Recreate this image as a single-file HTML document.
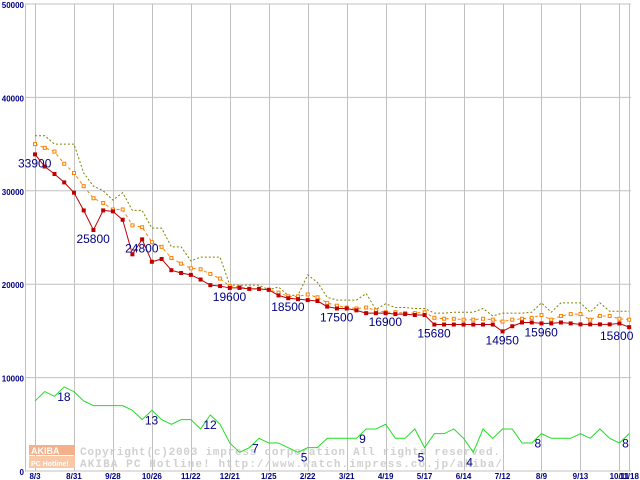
<!DOCTYPE html>
<html><head><meta charset="utf-8"><style>
html,body{margin:0;padding:0;background:#fff;}
svg{display:block;font-family:"Liberation Sans",sans-serif;}
</style></head><body>
<svg id="chart" width="640" height="480" viewBox="0 0 640 480" xmlns="http://www.w3.org/2000/svg">
<g id="grid"></g>
<g id="axes"></g>
<g id="watermark">
<rect x="29" y="445" width="46" height="10" fill="#f4b08a"/>
<rect x="29" y="456" width="46" height="12" fill="#f8c8a8"/>
<text x="31" y="454" font-size="9" font-weight="bold" fill="#fff">AKIBA</text>
<text x="31" y="466" font-size="7" font-weight="bold" fill="#fff">PC Hotline!</text>
<text x="80" y="455" font-family="Liberation Mono,monospace" font-size="11" font-weight="bold" textLength="420" lengthAdjust="spacing" fill="#d0d0d0">Copyright(c)2003 impress corporation All rights reserved.</text>
<text x="80" y="467" font-family="Liberation Mono,monospace" font-size="11" font-weight="bold" textLength="422" lengthAdjust="spacing" fill="#d0d0d0">AKIBA PC Hotline!  http://www.watch.impress.co.jp/akiba/</text>
</g>
<g id="series"></g>
<g id="labels"></g>
</svg>
<script>
const xLabels = ["8/3","8/31","9/28","10/26","11/22","12/21","1/25","2/22","3/21","4/19","5/17","6/14","7/12","8/9","9/13","10/11","11/18"];
const xLabelIdx = [0,4,8,12,16,20,24,28,32,36,40,44,48,52,56,60,61];
const yTicks = [0,10000,20000,30000,40000,50000];
const minPrice = [33900,32600,31800,30900,29800,27900,25800,27900,27800,26900,23200,24800,22400,22700,21500,21200,21000,20500,19900,19800,19600,19600,19500,19500,19400,18800,18500,18400,18300,18200,17600,17400,17400,17200,16900,16900,16900,16800,16800,16700,16700,15680,15680,15680,15680,15680,15680,15680,14950,15500,15900,15900,15800,15800,15900,15800,15700,15700,15700,15700,15800,15400];
const avgPrice = [35000,34600,34200,32900,31900,30500,29200,28700,28000,28000,26300,26100,24500,24000,22800,22200,21700,21600,21100,20600,19800,19700,19500,19500,19400,19100,18700,18700,18900,18600,18000,17700,17500,17400,17500,17200,17000,17000,16900,16900,17000,16400,16300,16300,16200,16200,16300,16200,16000,16200,16300,16400,16700,16200,16600,16800,16800,16200,16600,16600,16300,16200];
const maxPrice = [35900,35900,35000,35000,35000,31900,30500,30000,29000,29800,27900,27900,26000,26000,24000,24000,22500,22900,22900,22900,19900,19900,19900,19900,19400,19700,18800,18800,21000,20200,18600,18300,18300,18300,19000,17300,17900,17500,17500,17400,17400,16900,16900,17000,17000,17000,17400,16600,16900,16900,16900,17000,18000,17000,18000,18000,18000,17000,18000,17100,17100,17100];
const shopCount = [15,17,16,18,17,15,14,14,14,14,13,11,13,11,10,11,11,9,12,10,6,4,5,7,6,6,5,4,5,5,7,7,7,7,9,9,10,7,7,9,5,8,8,9,7,4,9,7,9,9,6,6,8,7,7,7,8,7,9,7,6,8];
const minLabels = [[0,"33900"],[6,"25800"],[11,"24800"],[20,"19600"],[26,"18500"],[31,"17500"],[36,"16900"],[41,"15680"],[48,"14950"],[52,"15960"],[61,"15800"]];
const countLabels = [[3,"18"],[12,"13"],[18,"12"],[23,"7"],[28,"5"],[34,"9"],[40,"5"],[45,"4"],[52,"8"],[61,"8"]];
const countScale = 500;

const NS="http://www.w3.org/2000/svg";
const X0=35, DX=9.74, Y0=471, PX=93.4/10000;
const xs=i=>X0+i*DX;
const ys=v=>Y0-v*PX;
function mk(tag,attrs,parent){const e=document.createElementNS(NS,tag);for(const k in attrs)e.setAttribute(k,attrs[k]);parent.appendChild(e);return e;}
const grid=document.getElementById('grid'),axes=document.getElementById('axes'),series=document.getElementById('series'),labels=document.getElementById('labels');

yTicks.forEach(v=>{
  const l=mk('line',{x1:25,x2:631,y1:ys(v),y2:ys(v),stroke:'#c0c0c0','stroke-width':1},grid);
  
  
  const t=mk('text',{x:24,y:ys(v)+4,'text-anchor':'end','font-size':8,'font-weight':'bold',fill:'#000080'},axes);
  t.textContent=String(v);
  
  
});
const ax=mk('line',{x1:25.5,x2:25.5,y1:4,y2:471,stroke:'#c0c0c0','stroke-width':1},grid);


xLabelIdx.forEach((idx,k)=>{
  const x=Math.round(xs(idx))+0.5;
  const l=mk('line',{x1:x,x2:x,y1:4,y2:471,stroke:'#c0c0c0','stroke-width':1},grid);
  
  
  const t=mk('text',{x:xs(idx),y:479,'text-anchor':'middle','font-size':8,'font-weight':'bold',fill:'#000080'},axes);
  t.textContent=xLabels[k];
  
  
});

function line(arr,color,dash,name,scale){
  const p=mk('polyline',{points:arr.map((v,i)=>xs(i)+','+ys(v*scale)).join(' '),fill:'none',stroke:color,'stroke-width':1,'stroke-dasharray':dash||'none'},series);
  
  
}
line(shopCount,'#22dd22',null,'shop-count-line',countScale);
line(maxPrice,'#808000','2,2','max-price-line',1);
line(avgPrice,'#ff8000','3,3','avg-price-line',1);
line(minPrice,'#c00000',null,'min-price-line',1);
avgPrice.forEach((v,i)=>{
  const r=mk('rect',{x:xs(i)-1.5,y:ys(v)-1.5,width:3,height:3,fill:'#fff',stroke:'#ff8000','stroke-width':1},series);
  
  
});
minPrice.forEach((v,i)=>{
  const r=mk('rect',{x:xs(i)-2,y:ys(v)-2,width:4,height:4,fill:'#c00000'},series);
  
  
});
minLabels.forEach(([i,s])=>{
  const x=Math.min(xs(i)-17,634-34);
  const t=mk('text',{x:x,y:ys(minPrice[i])+13,'font-size':12,fill:'#000080'},labels);
  t.textContent=s;
  
  
});
countLabels.forEach(([i,s])=>{
  const x=Math.min(xs(i)-7,632-7*s.length);
  const t=mk('text',{x:x,y:ys(shopCount[i]*countScale)+14,'font-size':12,fill:'#000080'},labels);
  t.textContent=s;
  
  
});
</script>
</body></html>
